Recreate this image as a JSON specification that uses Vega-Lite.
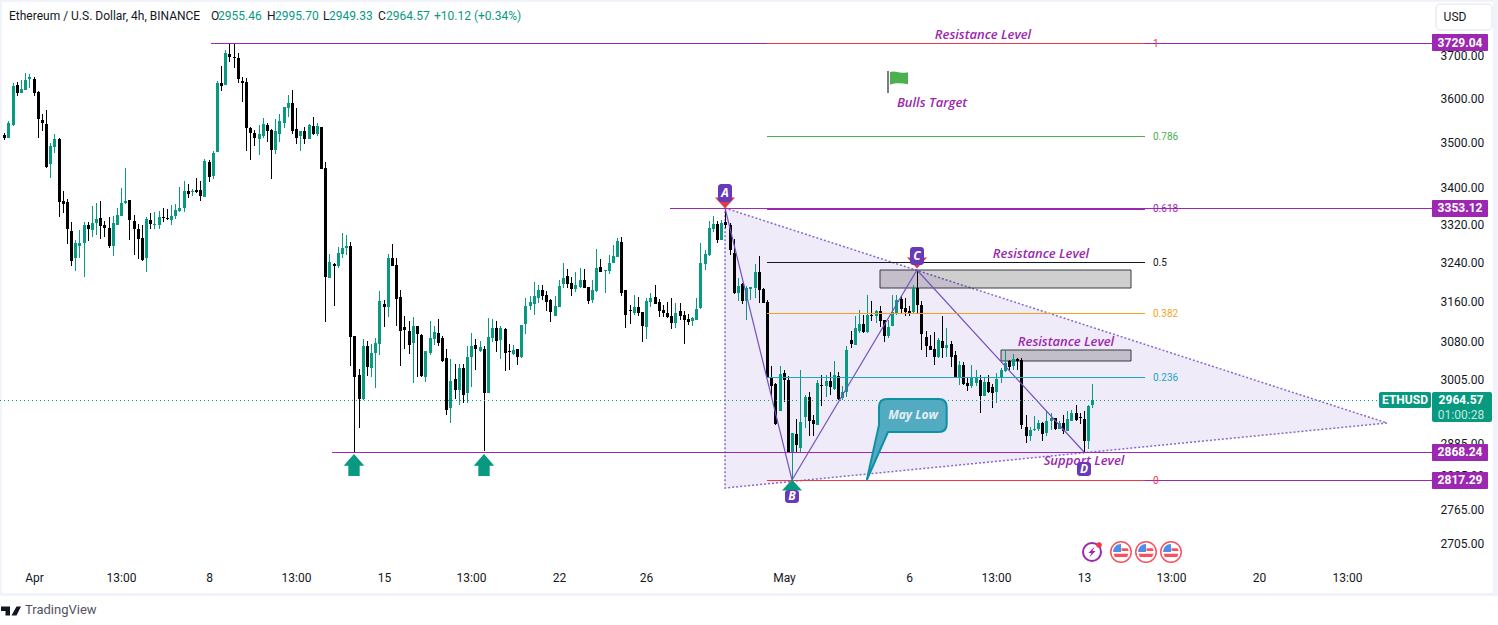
{"$schema":"https://vega.github.io/schema/vega-lite/v6.json","width":1432,"height":566,"autosize":{"type":"none"},"padding":{"left":0,"top":0,"right":66,"bottom":59},"background":"#ffffff","config":{"view":{"stroke":null}},
"datasets":{"candles":[
{"x":0,"o":3514,"h":3519,"l":3503,"c":3509},{"x":1,"o":3509,"h":3547,"l":3508,"c":3542},{"x":2,"o":3538,"h":3635,"l":3536,"c":3627},{"x":3,"o":3630,"h":3636,"l":3605,"c":3612},{"x":4,"o":3612,"h":3641,"l":3612,"c":3620},{"x":5,"o":3619,"h":3658,"l":3618,"c":3641},{"x":6,"o":3644,"h":3655,"l":3623,"c":3649},{"x":7,"o":3643,"h":3648,"l":3605,"c":3612},{"x":8,"o":3613,"h":3616,"l":3507,"c":3550},{"x":9,"o":3549,"h":3563,"l":3525,"c":3541},
{"x":10,"o":3540,"h":3572,"l":3442,"c":3444},{"x":11,"o":3449,"h":3497,"l":3420,"c":3490},{"x":12,"o":3487,"h":3518,"l":3475,"c":3506},{"x":13,"o":3506,"h":3508,"l":3335,"c":3367},{"x":14,"o":3369,"h":3391,"l":3344,"c":3363},{"x":15,"o":3367,"h":3373,"l":3278,"c":3308},{"x":16,"o":3305,"h":3324,"l":3232,"c":3241},{"x":17,"o":3247,"h":3286,"l":3221,"c":3280},{"x":18,"o":3274,"h":3307,"l":3247,"c":3280},{"x":19,"o":3280,"h":3324,"l":3208,"c":3317},
{"x":20,"o":3317,"h":3325,"l":3284,"c":3308},{"x":21,"o":3306,"h":3358,"l":3293,"c":3322},{"x":22,"o":3322,"h":3365,"l":3297,"c":3330},{"x":23,"o":3332,"h":3369,"l":3287,"c":3316},{"x":24,"o":3317,"h":3326,"l":3293,"c":3311},{"x":25,"o":3311,"h":3334,"l":3268,"c":3274},{"x":26,"o":3274,"h":3336,"l":3253,"c":3322},{"x":27,"o":3317,"h":3354,"l":3317,"c":3338},{"x":28,"o":3336,"h":3397,"l":3336,"c":3364},{"x":29,"o":3364,"h":3441,"l":3363,"c":3369},
{"x":30,"o":3371,"h":3371,"l":3285,"c":3329},{"x":31,"o":3326,"h":3338,"l":3255,"c":3308},{"x":32,"o":3309,"h":3319,"l":3245,"c":3287},{"x":33,"o":3290,"h":3317,"l":3241,"c":3243},{"x":34,"o":3247,"h":3334,"l":3219,"c":3330},{"x":35,"o":3328,"h":3343,"l":3308,"c":3320},{"x":36,"o":3317,"h":3346,"l":3310,"c":3319},{"x":37,"o":3317,"h":3347,"l":3310,"c":3334},{"x":38,"o":3334,"h":3354,"l":3325,"c":3332},{"x":39,"o":3332,"h":3352,"l":3328,"c":3330},
{"x":40,"o":3329,"h":3360,"l":3318,"c":3336},{"x":41,"o":3337,"h":3362,"l":3330,"c":3350},{"x":42,"o":3347,"h":3399,"l":3346,"c":3354},{"x":43,"o":3355,"h":3413,"l":3346,"c":3391},{"x":44,"o":3391,"h":3406,"l":3376,"c":3384},{"x":45,"o":3388,"h":3395,"l":3380,"c":3391},{"x":46,"o":3393,"h":3420,"l":3387,"c":3389},{"x":47,"o":3393,"h":3413,"l":3369,"c":3380},{"x":48,"o":3378,"h":3461,"l":3378,"c":3457},{"x":49,"o":3455,"h":3459,"l":3411,"c":3422},
{"x":50,"o":3424,"h":3479,"l":3416,"c":3474},{"x":51,"o":3477,"h":3639,"l":3477,"c":3634},{"x":52,"o":3634,"h":3673,"l":3616,"c":3627},{"x":53,"o":3630,"h":3712,"l":3630,"c":3705},{"x":54,"o":3702,"h":3729,"l":3684,"c":3696},{"x":55,"o":3695,"h":3726,"l":3670,"c":3693},{"x":56,"o":3693,"h":3705,"l":3635,"c":3644},{"x":57,"o":3639,"h":3648,"l":3589,"c":3635},{"x":58,"o":3636,"h":3646,"l":3479,"c":3530},{"x":59,"o":3531,"h":3534,"l":3458,"c":3519},
{"x":60,"o":3520,"h":3527,"l":3489,"c":3507},{"x":61,"o":3505,"h":3538,"l":3471,"c":3516},{"x":62,"o":3512,"h":3553,"l":3509,"c":3540},{"x":63,"o":3538,"h":3542,"l":3498,"c":3523},{"x":64,"o":3527,"h":3529,"l":3416,"c":3482},{"x":65,"o":3482,"h":3551,"l":3473,"c":3525},{"x":66,"o":3518,"h":3563,"l":3498,"c":3547},{"x":67,"o":3543,"h":3579,"l":3530,"c":3579},{"x":68,"o":3577,"h":3606,"l":3556,"c":3588},{"x":69,"o":3588,"h":3618,"l":3518,"c":3523},
{"x":70,"o":3529,"h":3576,"l":3494,"c":3509},{"x":71,"o":3512,"h":3525,"l":3479,"c":3523},{"x":72,"o":3525,"h":3534,"l":3494,"c":3505},{"x":73,"o":3505,"h":3540,"l":3505,"c":3538},{"x":74,"o":3536,"h":3556,"l":3514,"c":3518},{"x":75,"o":3518,"h":3542,"l":3512,"c":3536},{"x":76,"o":3534,"h":3534,"l":3439,"c":3439},{"x":77,"o":3441,"h":3455,"l":3117,"c":3208},{"x":78,"o":3206,"h":3257,"l":3206,"c":3240},{"x":79,"o":3236,"h":3238,"l":3150,"c":3231},
{"x":80,"o":3231,"h":3271,"l":3227,"c":3259},{"x":81,"o":3257,"h":3301,"l":3248,"c":3269},{"x":82,"o":3269,"h":3297,"l":3255,"c":3273},{"x":83,"o":3273,"h":3282,"l":3030,"c":3087},{"x":84,"o":3090,"h":3090,"l":2868,"c":3010},{"x":85,"o":3013,"h":3025,"l":2913,"c":2967},{"x":86,"o":2967,"h":3084,"l":2965,"c":3070},{"x":87,"o":3070,"h":3080,"l":3011,"c":3029},{"x":88,"o":3027,"h":3074,"l":3010,"c":3056},{"x":89,"o":3056,"h":3086,"l":2988,"c":3076},
{"x":90,"o":3074,"h":3179,"l":3051,"c":3160},{"x":91,"o":3154,"h":3162,"l":3108,"c":3148},{"x":92,"o":3148,"h":3257,"l":3128,"c":3248},{"x":93,"o":3248,"h":3278,"l":3232,"c":3232},{"x":94,"o":3234,"h":3248,"l":3110,"c":3164},{"x":95,"o":3168,"h":3183,"l":3030,"c":3100},{"x":96,"o":3108,"h":3130,"l":3064,"c":3102},{"x":97,"o":3100,"h":3120,"l":3054,"c":3072},{"x":98,"o":3076,"h":3128,"l":2998,"c":3110},{"x":99,"o":3110,"h":3110,"l":3010,"c":3094},
{"x":100,"o":3092,"h":3094,"l":3010,"c":3012},{"x":101,"o":3010,"h":3060,"l":3000,"c":3060},{"x":102,"o":3056,"h":3120,"l":3052,"c":3086},{"x":103,"o":3084,"h":3110,"l":3072,"c":3098},{"x":104,"o":3096,"h":3124,"l":3070,"c":3076},{"x":105,"o":3086,"h":3090,"l":3039,"c":3041},{"x":106,"o":3047,"h":3064,"l":2936,"c":2946},{"x":107,"o":2949,"h":3045,"l":2921,"c":3002},{"x":108,"o":3006,"h":3035,"l":2967,"c":2985},{"x":109,"o":2985,"h":3035,"l":2956,"c":3027},
{"x":110,"o":3027,"h":3035,"l":2960,"c":2975},{"x":111,"o":2979,"h":3070,"l":2960,"c":3049},{"x":112,"o":3049,"h":3096,"l":2989,"c":3070},{"x":113,"o":3072,"h":3084,"l":3023,"c":3064},{"x":114,"o":3060,"h":3080,"l":3058,"c":3068},{"x":115,"o":3064,"h":3070,"l":2870,"c":2979},{"x":116,"o":2979,"h":3126,"l":2979,"c":3088},{"x":117,"o":3086,"h":3124,"l":3078,"c":3106},{"x":118,"o":3106,"h":3120,"l":3058,"c":3080},{"x":119,"o":3082,"h":3110,"l":3045,"c":3106},
{"x":120,"o":3104,"h":3106,"l":3021,"c":3056},{"x":121,"o":3060,"h":3074,"l":3023,"c":3058},{"x":122,"o":3054,"h":3072,"l":3052,"c":3062},{"x":123,"o":3064,"h":3064,"l":3033,"c":3049},{"x":124,"o":3049,"h":3112,"l":3047,"c":3112},{"x":125,"o":3114,"h":3166,"l":3094,"c":3150},{"x":126,"o":3150,"h":3170,"l":3142,"c":3158},{"x":127,"o":3154,"h":3199,"l":3132,"c":3170},{"x":128,"o":3166,"h":3193,"l":3156,"c":3183},{"x":129,"o":3183,"h":3193,"l":3162,"c":3170},
{"x":130,"o":3172,"h":3179,"l":3140,"c":3158},{"x":131,"o":3162,"h":3164,"l":3118,"c":3138},{"x":132,"o":3130,"h":3170,"l":3130,"c":3150},{"x":133,"o":3148,"h":3203,"l":3148,"c":3191},{"x":134,"o":3195,"h":3238,"l":3187,"c":3207},{"x":135,"o":3211,"h":3226,"l":3187,"c":3195},{"x":136,"o":3197,"h":3209,"l":3170,"c":3185},{"x":137,"o":3185,"h":3220,"l":3177,"c":3193},{"x":138,"o":3189,"h":3228,"l":3187,"c":3203},{"x":139,"o":3203,"h":3226,"l":3187,"c":3187},
{"x":140,"o":3189,"h":3189,"l":3154,"c":3160},{"x":141,"o":3162,"h":3203,"l":3156,"c":3183},{"x":142,"o":3179,"h":3267,"l":3177,"c":3228},{"x":143,"o":3230,"h":3246,"l":3218,"c":3218},{"x":144,"o":3221,"h":3224,"l":3175,"c":3223},{"x":145,"o":3222,"h":3255,"l":3214,"c":3238},{"x":146,"o":3238,"h":3275,"l":3238,"c":3252},{"x":147,"o":3251,"h":3290,"l":3251,"c":3284},{"x":148,"o":3282,"h":3292,"l":3170,"c":3175},{"x":149,"o":3181,"h":3181,"l":3106,"c":3132},
{"x":150,"o":3142,"h":3152,"l":3114,"c":3140},{"x":151,"o":3136,"h":3172,"l":3132,"c":3148},{"x":152,"o":3148,"h":3168,"l":3130,"c":3136},{"x":153,"o":3138,"h":3138,"l":3078,"c":3110},{"x":154,"o":3108,"h":3166,"l":3084,"c":3160},{"x":155,"o":3158,"h":3175,"l":3148,"c":3166},{"x":156,"o":3168,"h":3193,"l":3154,"c":3154},{"x":157,"o":3158,"h":3164,"l":3128,"c":3140},{"x":158,"o":3142,"h":3152,"l":3128,"c":3136},{"x":159,"o":3136,"h":3158,"l":3126,"c":3128},
{"x":160,"o":3130,"h":3166,"l":3104,"c":3116},{"x":161,"o":3116,"h":3156,"l":3106,"c":3136},{"x":162,"o":3140,"h":3156,"l":3122,"c":3130},{"x":163,"o":3132,"h":3140,"l":3074,"c":3122},{"x":164,"o":3124,"h":3134,"l":3112,"c":3118},{"x":165,"o":3120,"h":3128,"l":3110,"c":3126},{"x":166,"o":3122,"h":3166,"l":3122,"c":3144},{"x":167,"o":3146,"h":3280,"l":3144,"c":3238},{"x":168,"o":3236,"h":3265,"l":3224,"c":3257},{"x":169,"o":3255,"h":3326,"l":3252,"c":3312},
{"x":170,"o":3309,"h":3337,"l":3303,"c":3320},{"x":171,"o":3320,"h":3326,"l":3280,"c":3286},{"x":172,"o":3286,"h":3328,"l":3286,"c":3322},{"x":173,"o":3325,"h":3353,"l":3311,"c":3318},{"x":174,"o":3318,"h":3321,"l":3255,"c":3264},{"x":175,"o":3258,"h":3287,"l":3174,"c":3176},{"x":176,"o":3175,"h":3206,"l":3159,"c":3191},{"x":177,"o":3195,"h":3196,"l":3153,"c":3160},{"x":178,"o":3159,"h":3191,"l":3121,"c":3186},{"x":179,"o":3184,"h":3188,"l":3162,"c":3188},
{"x":180,"o":3187,"h":3236,"l":3165,"c":3218},{"x":181,"o":3218,"h":3252,"l":3155,"c":3182},{"x":182,"o":3185,"h":3186,"l":3155,"c":3156},{"x":183,"o":3158,"h":3162,"l":3007,"c":3007},{"x":184,"o":3007,"h":3030,"l":2970,"c":2992},{"x":185,"o":2995,"h":2998,"l":2917,"c":2920},{"x":186,"o":2945,"h":3030,"l":2945,"c":3015},{"x":187,"o":3016,"h":3023,"l":2962,"c":3004},{"x":188,"o":3004,"h":3011,"l":2865,"c":2866},{"x":189,"o":2865,"h":2903,"l":2817,"c":2903},
{"x":190,"o":2901,"h":2930,"l":2867,"c":2880},{"x":191,"o":2875,"h":3023,"l":2867,"c":2924},{"x":192,"o":2933,"h":2975,"l":2912,"c":2971},{"x":193,"o":2971,"h":2980,"l":2897,"c":2926},{"x":194,"o":2928,"h":2937,"l":2898,"c":2920},{"x":195,"o":2918,"h":3004,"l":2918,"c":2998},{"x":196,"o":2993,"h":3014,"l":2953,"c":2991},{"x":197,"o":2991,"h":3014,"l":2971,"c":3002},{"x":198,"o":3001,"h":3019,"l":2974,"c":2989},{"x":199,"o":2987,"h":3040,"l":2985,"c":3014},
{"x":200,"o":3012,"h":3019,"l":2965,"c":2967},{"x":201,"o":2968,"h":2991,"l":2965,"c":2980},{"x":202,"o":2980,"h":3070,"l":2971,"c":3062},{"x":203,"o":3082,"h":3099,"l":3065,"c":3074},{"x":204,"o":3072,"h":3130,"l":3072,"c":3105},{"x":205,"o":3099,"h":3142,"l":3095,"c":3114},{"x":206,"o":3114,"h":3132,"l":3095,"c":3097},{"x":207,"o":3097,"h":3172,"l":3095,"c":3132},{"x":208,"o":3131,"h":3159,"l":3119,"c":3129},{"x":209,"o":3129,"h":3142,"l":3115,"c":3140},
{"x":210,"o":3139,"h":3150,"l":3107,"c":3119},{"x":211,"o":3121,"h":3122,"l":3077,"c":3089},{"x":212,"o":3090,"h":3122,"l":3085,"c":3107},{"x":213,"o":3109,"h":3172,"l":3109,"c":3137},{"x":214,"o":3135,"h":3172,"l":3132,"c":3161},{"x":215,"o":3164,"h":3169,"l":3135,"c":3143},{"x":216,"o":3146,"h":3165,"l":3129,"c":3137},{"x":217,"o":3139,"h":3149,"l":3129,"c":3135},{"x":218,"o":3137,"h":3193,"l":3135,"c":3186},{"x":219,"o":3186,"h":3224,"l":3135,"c":3152},
{"x":220,"o":3152,"h":3159,"l":3061,"c":3093},{"x":221,"o":3087,"h":3099,"l":3049,"c":3069},{"x":222,"o":3070,"h":3092,"l":3062,"c":3062},{"x":223,"o":3063,"h":3097,"l":3032,"c":3049},{"x":224,"o":3049,"h":3085,"l":3046,"c":3081},{"x":225,"o":3079,"h":3130,"l":3046,"c":3065},{"x":226,"o":3065,"h":3105,"l":3049,"c":3071},{"x":227,"o":3074,"h":3079,"l":3029,"c":3049},{"x":228,"o":3051,"h":3060,"l":3007,"c":3007},{"x":229,"o":3007,"h":3040,"l":2994,"c":3033},
{"x":230,"o":3033,"h":3038,"l":2994,"c":2996},{"x":231,"o":2998,"h":3010,"l":2982,"c":2991},{"x":232,"o":2991,"h":3033,"l":2988,"c":3009},{"x":233,"o":2998,"h":3023,"l":2991,"c":3007},{"x":234,"o":3003,"h":3013,"l":2941,"c":2972},{"x":235,"o":2972,"h":3010,"l":2972,"c":2999},{"x":236,"o":2999,"h":3013,"l":2978,"c":2981},{"x":237,"o":2990,"h":2995,"l":2950,"c":2978},{"x":238,"o":2980,"h":3016,"l":2959,"c":3005},{"x":239,"o":3007,"h":3026,"l":2998,"c":3023},
{"x":240,"o":3020,"h":3062,"l":3018,"c":3036},{"x":241,"o":3040,"h":3043,"l":3023,"c":3029},{"x":242,"o":3030,"h":3054,"l":3023,"c":3044},{"x":243,"o":3044,"h":3046,"l":3023,"c":3040},{"x":244,"o":3043,"h":3046,"l":2910,"c":2917},{"x":245,"o":2915,"h":2937,"l":2885,"c":2897},{"x":246,"o":2897,"h":2914,"l":2888,"c":2909},{"x":247,"o":2909,"h":2935,"l":2907,"c":2911},{"x":248,"o":2911,"h":2928,"l":2907,"c":2922},{"x":249,"o":2922,"h":2923,"l":2888,"c":2901},
{"x":250,"o":2903,"h":2944,"l":2897,"c":2926},{"x":251,"o":2926,"h":2941,"l":2909,"c":2931},{"x":252,"o":2931,"h":2931,"l":2909,"c":2911},{"x":253,"o":2911,"h":2925,"l":2911,"c":2922},{"x":254,"o":2922,"h":2937,"l":2901,"c":2907},{"x":255,"o":2907,"h":2944,"l":2907,"c":2930},{"x":256,"o":2926,"h":2947,"l":2926,"c":2940},{"x":257,"o":2940,"h":2956,"l":2926,"c":2928},{"x":258,"o":2933,"h":2940,"l":2919,"c":2931},{"x":259,"o":2930,"h":2944,"l":2868,"c":2888},
{"x":260,"o":2888,"h":2956,"l":2873,"c":2954},{"x":261,"o":2955.46,"h":2995.7,"l":2949.33,"c":2964.57}],
"fib":[{"x":182.96,"x2":273.65,"y":3729.04,"level":"1"},{"x":182.96,"x2":273.65,"y":3513,"level":"0.786"},{"x":182.96,"x2":273.65,"y":3353.12,"level":"0.618"},{"x":182.96,"x2":273.65,"y":3240,"level":"0.5"},{"x":182.96,"x2":273.65,"y":3136,"level":"0.382"},{"x":182.96,"x2":273.65,"y":3010,"level":"0.236"},{"x":182.96,"x2":273.65,"y":2817.29,"level":"0"}],
"keys":[{"x":49.58,"x2":342.5,"y":3729.04},{"x":159.7,"x2":342.5,"y":3353.12},{"x":78.6,"x2":342.5,"y":2868.24},{"x":273.65,"x2":342.5,"y":2817.29}],
"ann":[{"x":234.8,"y":3750,"t":"Resistance Level"},{"x":248.7,"y":3259,"t":"Resistance Level"},{"x":254.7,"y":3080,"t":"Resistance Level"},{"x":259,"y":2853,"t":"Support Level"},{"x":222.5,"y":3590,"t":"Bulls Target"}],
"tags":[{"x":342.5,"x2":355.96,"y":3750,"y2":3709,"cx":349.2,"cy":3729.04,"t":"3729.04"},{"x":342.5,"x2":355.96,"y":3371,"y2":3335,"cx":349.2,"cy":3353.12,"t":"3353.12"},{"x":342.5,"x2":355.96,"y":2882,"y2":2851,"cx":349.2,"cy":2868.24,"t":"2868.24"},{"x":342.5,"x2":355.96,"y":2831,"y2":2800,"cx":349.2,"cy":2817.29,"t":"2817.29"}],
"badges":[{"x":171.2,"x2":174.6,"y":3406,"y2":3367,"cx":173,"cy":3386,"t":"A"},{"x":187.3,"x2":190.6,"y":2799,"y2":2776,"cx":189,"cy":2788,"t":"B"},{"x":217.3,"x2":220.6,"y":3271,"y2":3234,"cx":219,"cy":3252,"t":"C"},{"x":257.3,"x2":260.7,"y":2849,"y2":2824,"cx":259,"cy":2837,"t":"D"}],
"frame":[{"x":-1.04,"x2":358.3,"y":3833,"y2":3828},{"x":-1.04,"x2":358.3,"y":2620,"y2":2615},{"x":-1.04,"x2":-0.56,"y":3833,"y2":2615},{"x":357.1,"x2":358.3,"y":3833,"y2":2615}],
"flags":[{"x":268,"y":2690},{"x":274,"y":2690},{"x":280,"y":2690}],
"arrows":[{"x":84,"y":2844},{"x":115,"y":2844}]},
"encoding":{"x":{"field":"x","type":"quantitative","title":null,"scale":{"domain":[-1.039,342.5],"nice":false,"zero":false,"round":true},"axis":{"domain":false,"ticks":false,"grid":false,"labelPadding":6,"labelFont":"Roboto","labelFontSize":12,"labelOverlap":false,"labelBound":false,"labelFlush":false,"values":[7,28,49,70,91,112,133,154,187,217,238,259,280,301,322],"labelExpr":"datum.value==7?'Apr':datum.value==49?'8':datum.value==91?'15':datum.value==133?'22':datum.value==154?'26':datum.value==187?'May':datum.value==217?'6':datum.value==259?'13':datum.value==301?'20':'13:00'","labelColor":"#131722"}},
"y":{"field":"y","type":"quantitative","title":null,"scale":{"type":"log","domain":[2665.4,3833],"nice":false,"zero":false,"round":true},"axis":{"orient":"right","domain":false,"ticks":false,"grid":false,"labelPadding":8,"labelFont":"Roboto","labelFontSize":12,"labelColor":"#131722","labelOverlap":false,"labelBound":false,"values":[3700,3600,3500,3400,3320,3240,3160,3080,3005,2885,2825,2765,2705],"format":".2f"}}},
"layer":[
{"data":{"name":"frame"},"mark":{"type":"rect","color":"#f0f3fa"},"encoding":{"x2":{"field":"x2"},"y2":{"field":"y2"}}},
{"data":{"values":[{"x":172.9,"y":3354,"y2":2803},{"x":331.6,"y":2922,"y2":2922}]},"mark":{"type":"area","color":"#673ab7","opacity":0.1},"encoding":{"y2":{"field":"y2"}}},
{"data":{"values":[{"n":0,"x":172.9,"y":3354},{"n":1,"x":331.6,"y":2922},{"n":2,"x":172.9,"y":2803},{"n":3,"x":172.9,"y":3354}]},"mark":{"type":"line","color":"#8a68cc","strokeWidth":1.5,"strokeDash":[2,2]},"encoding":{"order":{"field":"n","type":"quantitative"}}},
{"data":{"values":[{"x":210.1,"x2":270.3,"y":3224,"y2":3187},{"x":239,"x2":270.3,"y":3062,"y2":3041}]},"mark":{"type":"rect","fill":"#000000","fillOpacity":0.19,"stroke":"#363a45","strokeWidth":1},"encoding":{"x2":{"field":"x2"},"y2":{"field":"y2"}}},
{"data":{"name":"candles"},"mark":{"type":"rule","strokeWidth":1,"xOffset":0.5},"encoding":{"y":{"field":"h","type":"quantitative"},"y2":{"field":"l"},"color":{"condition":{"test":"datum.c>=datum.o","value":"#089981"},"value":"#000000"}}},
{"data":{"name":"candles"},"mark":{"type":"rule","strokeWidth":3,"xOffset":0.5},"encoding":{"y":{"field":"o","type":"quantitative"},"y2":{"field":"c"},"color":{"condition":{"test":"datum.c>=datum.o","value":"#089981"},"value":"#000000"}}},
{"data":{"values":[{"x":173,"y":3353},{"x":189,"y":2817},{"x":219,"y":3224},{"x":259,"y":2868}]},"mark":{"type":"line","color":"#7450c0","strokeWidth":1.2}},
{"data":{"name":"keys"},"mark":{"type":"rule","color":"#9c27b0","strokeWidth":1,"yOffset":0.5},"encoding":{"x2":{"field":"x2"}}},
{"data":{"name":"fib"},"mark":{"type":"rule","strokeWidth":1,"yOffset":0.5},"encoding":{"x2":{"field":"x2"},"color":{"field":"level","type":"nominal","legend":null,"scale":{"domain":["1","0.786","0.618","0.5","0.382","0.236","0"],"range":["#f23645","#4caf50","#9c27b0","#131722","#f7a21c","#1ba7c4","#f23645"]}}}},
{"data":{"values":[{"x":182.96,"x2":273.65,"y":3353.12}]},"mark":{"type":"rule","color":"#9c27b0","strokeWidth":2,"yOffset":1},"encoding":{"x2":{"field":"x2"}}},
{"data":{"name":"fib"},"mark":{"type":"text","align":"left","baseline":"middle","font":"Roboto","fontSize":10,"dx":8,"dy":1},"encoding":{"x":{"field":"x2","type":"quantitative"},"text":{"field":"level"},"color":{"field":"level","type":"nominal","legend":null}}},
{"data":{"values":[{"x":-1.04,"x2":329.8,"y":2964.57}]},"mark":{"type":"rule","color":"#089981","strokeWidth":1,"strokeDash":[1,3],"yOffset":0.5},"encoding":{"x2":{"field":"x2"}}},
{"data":{"values":[{"x":216.3,"y":2890}]},"mark":{"type":"point","filled":true,"opacity":1,"fill":"#52abc1","stroke":"#0e90a6","strokeWidth":2,"size":6400,"shape":"M-0.475,-1.025L0.8175,-1.025Q1.0175,-1.025,1.0175,-0.825L1.0175,-0.4Q1.0175,-0.2,0.8175,-0.2L-0.45,-0.2L-0.98,1L-0.675,-0.375L-0.675,-0.825Q-0.675,-1.025,-0.475,-1.025Z"}},
{"data":{"values":[{"x":218,"y":2937,"t":"May Low"}]},"mark":{"type":"text","font":"Open Sans","fontSize":12,"fontStyle":"italic","fontWeight":"bold","color":"#e6eef4"},"encoding":{"text":{"field":"t"}}},
{"data":{"name":"arrows"},"mark":{"type":"point","filled":true,"opacity":1,"color":"#089981","size":424,"shape":"M0,-1.07L1,0.07L0.55,0.07L0.55,1.07L-0.55,1.07L-0.55,0.07L-1,0.07Z"}},
{"data":{"values":[{"x":173,"y":3365},{"x":219,"y":3238}]},"mark":{"type":"point","filled":true,"opacity":1,"color":"#e0394a","size":400,"shape":"M-1,-0.55L1,-0.55L0,0.55Z"}},
{"data":{"values":[{"x":189,"y":2807}]},"mark":{"type":"point","filled":true,"opacity":1,"color":"#089981","size":400,"shape":"M-1,0.55L1,0.55L0,-0.55Z"}},
{"data":{"name":"ann"},"mark":{"type":"text","font":"Open Sans","fontSize":13,"fontStyle":"italic","fontWeight":600,"dy":1,"color":"#9c27b0"},"encoding":{"text":{"field":"t"}}},
{"data":{"name":"badges"},"mark":{"type":"rect","color":"#673ab7","cornerRadius":3},"encoding":{"x2":{"field":"x2"},"y2":{"field":"y2"}}},
{"data":{"name":"badges"},"mark":{"type":"text","font":"Open Sans","fontSize":12,"fontStyle":"italic","fontWeight":"bold","color":"#ffffff"},"encoding":{"x":{"field":"cx","type":"quantitative"},"y":{"field":"cy","type":"quantitative"},"text":{"field":"t"}}},
{"data":{"values":[{"x":212,"x2":212,"y":3662,"y2":3611}]},"mark":{"type":"rule","color":"#50535e","strokeWidth":1.5},"encoding":{"y2":{"field":"y2"}}},
{"data":{"values":[{"x":214.6,"y":3645}]},"mark":{"type":"point","filled":true,"opacity":1,"color":"#4caf50","size":324,"shape":"M-1,-0.65C-0.5,-0.9,0,-0.5,1,-0.6L1,0.7C0.4,0.6,-0.3,0.5,-1,0.75Z"}},
{"data":{"values":[{"x":260.9,"y":2690}]},"mark":{"type":"point","filled":false,"opacity":1,"color":"#9c27b0","strokeWidth":2,"size":324,"shape":"circle"}},
{"data":{"values":[{"x":260.9,"y":2690}]},"mark":{"type":"point","filled":true,"opacity":1,"color":"#9c27b0","size":324,"shape":"M0.3,-0.6L-0.4,0.1L-0.05,0.1L-0.3,0.6L0.4,-0.1L0.05,-0.1Z"}},
{"data":{"values":[{"x":262.6,"y":2702}]},"mark":{"type":"point","filled":true,"opacity":1,"color":"#f23645","size":30,"shape":"circle"}},
{"data":{"name":"flags"},"mark":{"type":"point","filled":true,"opacity":1,"fill":"#ffffff","stroke":"#f7525f","strokeWidth":1.5,"size":420,"shape":"circle"}},
{"data":{"name":"flags"},"mark":{"type":"point","filled":true,"opacity":1,"color":"#4b8fe8","size":484,"shape":"M0,-0.72L0,0L-0.72,0C-0.72,-0.4,-0.4,-0.72,0,-0.72Z"}},
{"data":{"name":"flags"},"mark":{"type":"point","filled":true,"opacity":1,"color":"#f7525f","size":484,"shape":"M-0.68,0.15L0.68,0.15L0.55,0.45L-0.55,0.45ZM0.05,-0.35L0.6,-0.35L0.7,-0.08L0.05,-0.08Z"}},
{"data":{"name":"tags"},"mark":{"type":"rect","color":"#9c27b0","cornerRadius":1},"encoding":{"x2":{"field":"x2"},"y2":{"field":"y2"}}},
{"data":{"name":"tags"},"mark":{"type":"text","font":"Roboto","fontSize":12,"fontWeight":"bold","color":"#ffffff"},"encoding":{"x":{"field":"cx","type":"quantitative"},"y":{"field":"cy","type":"quantitative"},"text":{"field":"t"}}},
{"data":{"values":[{"x":342.5,"x2":356.9,"y":2980,"y2":2923}]},"mark":{"type":"rect","color":"#089981","cornerRadius":2},"encoding":{"x2":{"field":"x2"},"y2":{"field":"y2"}}},
{"data":{"values":[{"x":329.8,"x2":342.3,"y":2980,"y2":2949}]},"mark":{"type":"rect","color":"#089981","cornerRadius":2},"encoding":{"x2":{"field":"x2"},"y2":{"field":"y2"}}},
{"data":{"values":[{"x":349.4,"y":2964.57,"t":"2964.57"},{"x":336,"y":2964.57,"t":"ETHUSD"}]},"mark":{"type":"text","font":"Roboto","fontSize":12,"fontWeight":"bold","color":"#ffffff"},"encoding":{"text":{"field":"t"}}},
{"data":{"values":[{"x":349.4,"y":2937,"t":"01:00:28"}]},"mark":{"type":"text","font":"Roboto","fontSize":12,"color":"#c4e8df"},"encoding":{"text":{"field":"t"}}},
{"data":{"values":[{"x":343.5,"x2":356.9,"y":3823,"y2":3760}]},"mark":{"type":"rect","fill":"#ffffff","stroke":"#e0e3eb","strokeWidth":1,"cornerRadius":4},"encoding":{"x2":{"field":"x2"},"y2":{"field":"y2"}}},
{"data":{"values":[{"x":348,"y":3791,"t":"USD"}]},"mark":{"type":"text","font":"Roboto","fontSize":12,"color":"#131722"},"encoding":{"text":{"field":"t"}}},
{"data":{"values":[{"x":1.12,"y":3795,"t":"Ethereum / U.S. Dollar, 4h, BINANCE"},{"x":49.5,"y":3795,"t":"O"},{"x":62.94,"y":3795,"t":"H"},{"x":76.45,"y":3795,"t":"L"},{"x":89.64,"y":3795,"t":"C"}]},"mark":{"type":"text","align":"left","font":"Roboto","fontSize":12,"color":"#131722"},"encoding":{"text":{"field":"t"}}},
{"data":{"values":[{"x":51.26,"y":3795,"t":"2955.46"},{"x":64.86,"y":3795,"t":"2995.70"},{"x":77.9,"y":3795,"t":"2949.33"},{"x":91.49,"y":3795,"t":"2964.57"},{"x":103.1,"y":3795,"t":"+10.12 (+0.34%)"}]},"mark":{"type":"text","align":"left","font":"Roboto","fontSize":12,"color":"#089981"},"encoding":{"text":{"field":"t"}}},
{"data":{"values":[{"x":1.48,"y":2590}]},"mark":{"type":"point","filled":true,"opacity":1,"color":"#131722","size":400,"shape":"M-1,-0.45L-0.1,-0.45L-0.1,0.45L-0.55,0.45L-0.55,0L-1,0ZM0.55,-0.45L1,-0.45L0.55,0.45L0.05,0.45Z"}},
{"data":{"values":[{"x":5,"y":2591,"t":"TradingView"}]},"mark":{"type":"text","align":"left","font":"Roboto","fontSize":13,"color":"#50535e"},"encoding":{"text":{"field":"t"}}}
]}
